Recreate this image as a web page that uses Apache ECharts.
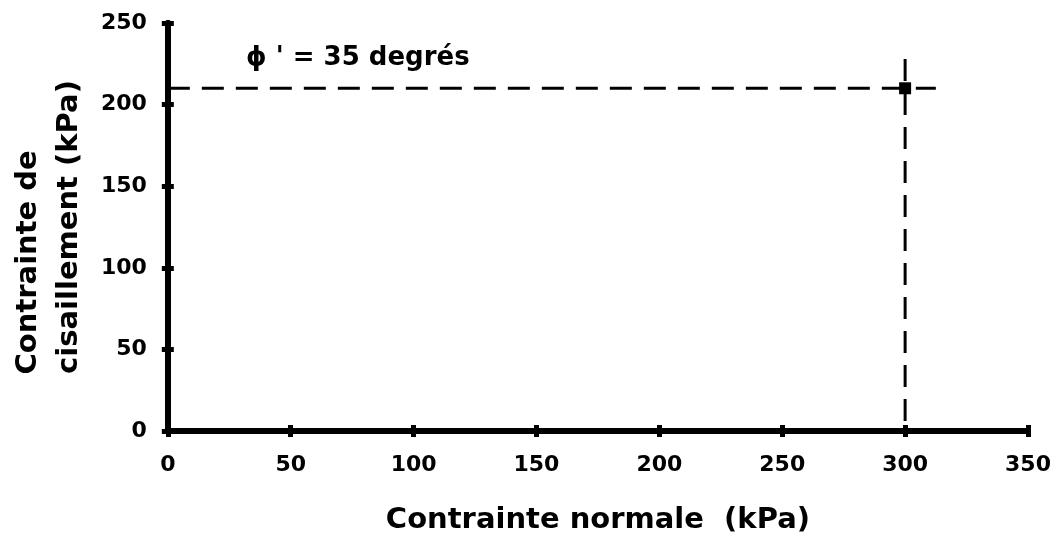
<!DOCTYPE html>
<html>
<head>
<meta charset="utf-8">
<script src="https://cdn.jsdelivr.net/npm/echarts@6/dist/echarts.min.js"></script>
<style>
html,body{margin:0;padding:0;background:#fff;}
#chart{width:1059px;height:540px;}
</style>
</head>
<body>
<div id="chart"></div>
<script>
// ---- data ----
const xTicks = [0, 50, 100, 150, 200, 250, 300, 350];
const yTicks = [0, 50, 100, 150, 200, 250];
const pointX = [300];
const pointY = [210];
const horizLineX = [0, 312.5];   // dashed line at tau = 210
const horizLineY = [210, 210];
const vertLineX = [300, 300];    // dashed line at sigma = 300
const vertLineY = [0, 228];
const annotation = "ϕ ' = 35 degrés";
const xName = "Contrainte normale  (kPa)";
const yNameLines = ["Contrainte de", "cisaillement (kPa)"];

const FONT = "DejaVu Sans";
const chart = echarts.init(document.getElementById('chart'), null, {renderer: 'canvas'});

function pairs(xs, ys) { return xs.map((x, i) => [x, ys[i]]); }

const axisCommon = {
  axisLine: {show: true, onZero: false, lineStyle: {color: '#000', width: 6}},
  splitLine: {show: false}
};

const option = {
  animation: false,
  backgroundColor: '#fff',
  title: {
    text: annotation,
    left: 246, top: 45, padding: 0,
    textStyle: {fontFamily: FONT, fontWeight: 'bold', fontSize: 26, color: '#000'}
  },
  grid: {left: 163, right: 31, top: 23, bottom: 107, containLabel: false},
  xAxis: [{
    type: 'value', min: xTicks[0], max: xTicks[xTicks.length - 1], interval: 50,
    position: 'bottom',
    name: xName, nameLocation: 'middle', nameGap: 75,
    nameTextStyle: {fontFamily: FONT, fontWeight: 'bold', fontSize: 29, color: '#000'},
    ...axisCommon,
    axisTick: {show: true, inside: false, length: 6, lineStyle: {color: '#000', width: 5}},
    axisLabel: {margin: 23, fontFamily: FONT, fontWeight: 'bold', fontSize: 22, color: '#000'}
  }, {
    type: 'value', min: xTicks[0], max: xTicks[xTicks.length - 1], interval: 50,
    position: 'bottom',
    ...axisCommon,
    axisTick: {show: true, inside: true, length: 6, lineStyle: {color: '#000', width: 5}},
    axisLabel: {show: false}
  }],
  yAxis: [{
    type: 'value', min: yTicks[0], max: yTicks[yTicks.length - 1], interval: 50,
    position: 'left',
    name: yNameLines[0] + '       \n' + yNameLines[1],
    nameLocation: 'middle', nameGap: 77, nameRotate: 90,
    nameTextStyle: {fontFamily: FONT, fontWeight: 'bold', fontSize: 29, lineHeight: 41, color: '#000'},
    ...axisCommon,
    axisTick: {show: true, inside: false, length: 6, lineStyle: {color: '#000', width: 5}},
    axisLabel: {margin: 21, fontFamily: FONT, fontWeight: 'bold', fontSize: 22, color: '#000'}
  }, {
    type: 'value', min: yTicks[0], max: yTicks[yTicks.length - 1], interval: 50,
    position: 'left',
    ...axisCommon,
    axisTick: {show: true, inside: true, length: 6, lineStyle: {color: '#000', width: 5}},
    axisLabel: {show: false}
  }],
  series: [{
    name: 'horizontal', type: 'line', xAxisIndex: 0, yAxisIndex: 0,
    data: pairs(horizLineX, horizLineY), showSymbol: false, symbol: 'none',
    lineStyle: {color: '#000', width: 3, type: [22, 12]}, z: 3
  }, {
    name: 'vertical', type: 'line', xAxisIndex: 0, yAxisIndex: 0,
    data: pairs(vertLineX, vertLineY).reverse(), showSymbol: false, symbol: 'none',
    lineStyle: {color: '#000', width: 3, type: [22, 12]}, z: 3
  }, {
    name: 'point', type: 'scatter', xAxisIndex: 0, yAxisIndex: 0,
    data: pairs(pointX, pointY), symbol: 'rect', symbolSize: 12,
    itemStyle: {color: '#000', opacity: 1}, z: 4
  }]
};
chart.setOption(option);
</script>
</body>
</html>
